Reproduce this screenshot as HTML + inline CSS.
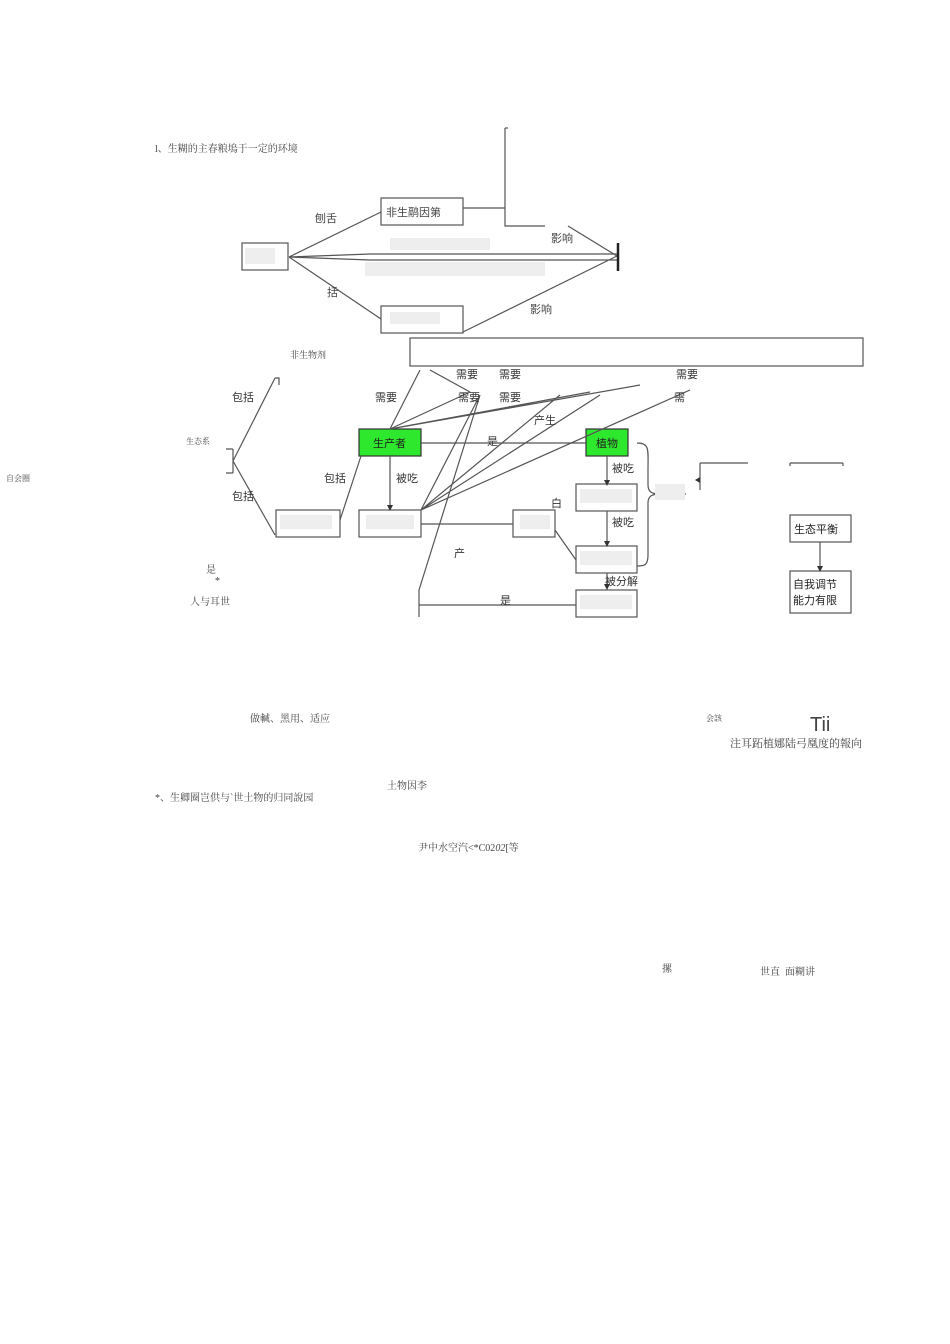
<!DOCTYPE html>
<html><head><meta charset="utf-8"><style>
html,body{margin:0;padding:0;background:#fff;}
body{width:950px;height:1344px;position:relative;overflow:hidden;font-family:"Liberation Serif","Noto Serif CJK SC",serif;color:#444;}
.t{position:absolute;font-size:10px;white-space:nowrap;}
svg{position:absolute;left:0;top:0;}
</style></head><body>
<svg width="950" height="1344" viewBox="0 0 950 1344" font-family="Liberation Sans, Noto Sans CJK SC, sans-serif" font-size="11" fill="none" stroke="#555" stroke-width="1.2">
<rect x="242" y="243" width="46" height="27" fill="#fff"/>
<rect x="381" y="198" width="82" height="27" fill="#fff"/>
<rect x="381" y="306" width="82" height="27" fill="#fff"/>
<path d="M289 257 L381 212 M289 257 L381 319 M463 332 L617 256 M289 257 L370 254 L617 254 M289 257 L370 260 L617 260"/>
<path d="M463 208 L505 208 M505 128 L505 226 L545 226 M568 226 L617 256"/>
<path d="M505 128 L508 128"/>
<line x1="618" y1="243" x2="618" y2="271" stroke="#222" stroke-width="2.5"/>
<rect x="390" y="238" width="100" height="12" fill="#eee" stroke="none"/>
<rect x="365" y="262" width="180" height="14" fill="#eee" stroke="none"/>
<rect x="245" y="248" width="30" height="16" fill="#eee" stroke="none"/>
<rect x="390" y="312" width="50" height="12" fill="#eee" stroke="none"/>
<g fill="#444" stroke="none">
<text x="386" y="216">非生鹝因第</text>
<text x="315" y="222">刨舌</text>
<text x="327" y="296">括</text>
<text x="551" y="242">影响</text>
<text x="530" y="313">影响</text>
</g>
<rect x="410" y="338" width="453" height="28" fill="none"/>
<path d="M233 449 L233 473 M226 449 L233 449 M226 473 L233 473 M233 461 L275 378 M233 461 L275 535"/>
<path d="M275 378 L279 378 L279 385"/>
<rect x="276" y="510" width="64" height="27" fill="#fff"/>
<rect x="359" y="510" width="62" height="27" fill="#fff"/>
<rect x="513" y="510" width="42" height="27" fill="#fff"/>
<rect x="576" y="484" width="61" height="27" fill="#fff"/>
<rect x="576" y="546" width="61" height="27" fill="#fff"/>
<rect x="576" y="590" width="61" height="27" fill="#fff"/>
<rect x="359" y="429" width="62" height="27" fill="#2ee82e" stroke="#333"/>
<rect x="586" y="429" width="42" height="27" fill="#2ee82e" stroke="#333"/>
<rect x="790" y="515" width="61" height="27" fill="#fff"/>
<rect x="790" y="571" width="61" height="42" fill="#fff"/>
<path d="M340 520 L361 456 M421 443 L586 443 M390 456 L390 505 M421 524 L513 524 M607 456 L607 480 M607 511 L607 541 M607 573 L607 586 M419 590 L419 617 M419 605 L576 605 M555 530 L576 560 M820 542 L820 566"/>
<path d="M419 590 L480 395 M421 510 L600 395 M421 510 L690 390 M421 510 L560 395 M421 510 L480 395 M390 429 L420 370 M390 429 L470 392 M390 429 L590 392 M390 429 L640 385 M430 370 L470 392"/>
<path d="M637 443 C650 443 648 450 648 470 L648 485 C648 492 652 494 660 494 L686 494 M660 494 C652 494 648 496 648 503 L648 555 C648 565 645 566 637 566"/>
<path d="M700 463 L700 490 M700 463 L748 463 M790 463 L843 463 M843 463 L843 466 M790 463 L790 466"/>
<g fill="#333" stroke="none">
<path d="M387 505 L393 505 L390 511Z"/><path d="M604 480 L610 480 L607 486Z"/><path d="M604 541 L610 541 L607 547Z"/><path d="M604 584 L610 584 L607 590Z"/><path d="M817 566 L823 566 L820 572Z"/><path d="M695 480 L700 477 L700 483Z"/>
</g>
<rect x="280" y="515" width="52" height="14" fill="#eee" stroke="none"/>
<rect x="366" y="515" width="48" height="14" fill="#eee" stroke="none"/>
<rect x="520" y="515" width="30" height="14" fill="#eee" stroke="none"/>
<rect x="580" y="489" width="52" height="14" fill="#eee" stroke="none"/>
<rect x="580" y="551" width="52" height="14" fill="#eee" stroke="none"/>
<rect x="580" y="595" width="52" height="14" fill="#eee" stroke="none"/>
<rect x="655" y="484" width="30" height="16" fill="#eee" stroke="none"/>
<g fill="#333" stroke="none">
<text x="373" y="447" fill="#222">生产者</text>
<text x="596" y="447" fill="#222">植物</text>
<text x="232" y="401">包括</text>
<text x="232" y="500">包括</text>
<text x="324" y="482">包括</text>
<text x="375" y="401">需要</text>
<text x="458" y="401">需要</text>
<text x="499" y="401">需要</text>
<text x="456" y="378">需要</text><text x="499" y="378">需要</text><text x="676" y="378">需要</text>
<text x="674" y="401">需</text>
<text x="487" y="445">是</text>
<text x="534" y="424">产生</text>
<text x="396" y="482">被吃</text>
<text x="612" y="472">被吃</text>
<text x="612" y="526">被吃</text>
<text x="605" y="585">被分解</text>
<text x="551" y="507">白</text>
<text x="454" y="557">产</text>
<text x="500" y="604">是</text>
<text x="794" y="533" fill="#222">生态平衡</text>
<text x="793" y="588" fill="#222">自我调节</text>
<text x="793" y="604" fill="#222">能力有限</text>
</g>
</svg>
<div class="t" style="left:155px;top:140px;">l、生糊的主春粮塢于一定的环境</div>
<div class="t" style="left:290px;top:348px;font-size:9px;">非生物剂</div>
<div class="t" style="left:186px;top:436px;font-size:8px;">生态系</div>
<div class="t" style="left:6px;top:473px;font-size:8px;">自会圈</div>
<div class="t" style="left:206px;top:561px;">是</div>
<div class="t" style="left:215px;top:576px;">*</div>
<div class="t" style="left:190px;top:593px;">人与耳世</div>
<div class="t" style="left:250px;top:710px;">做輱、黑用、适应</div>
<div class="t" style="left:706px;top:713px;font-size:8px;">会該</div>
<div class="t" style="left:810px;top:714px;font-size:20px;font-family:'Liberation Sans',sans-serif;">Tii</div>
<div class="t" style="left:730px;top:735px;font-size:11px;">注耳跖植娜陆弓凰度的報向</div>
<div class="t" style="left:387px;top:777px;">土物因李</div>
<div class="t" style="left:155px;top:789px;">*、生卿圈岂供与`世土物的归同說园</div>
<div class="t" style="left:418px;top:839px;">尹中水空汽&lt;*C02<i>02</i>[等</div>
<div class="t" style="left:662px;top:960px;">摞</div>
<div class="t" style="left:760px;top:963px;">世直 &nbsp;面糊讲</div>
</body></html>
